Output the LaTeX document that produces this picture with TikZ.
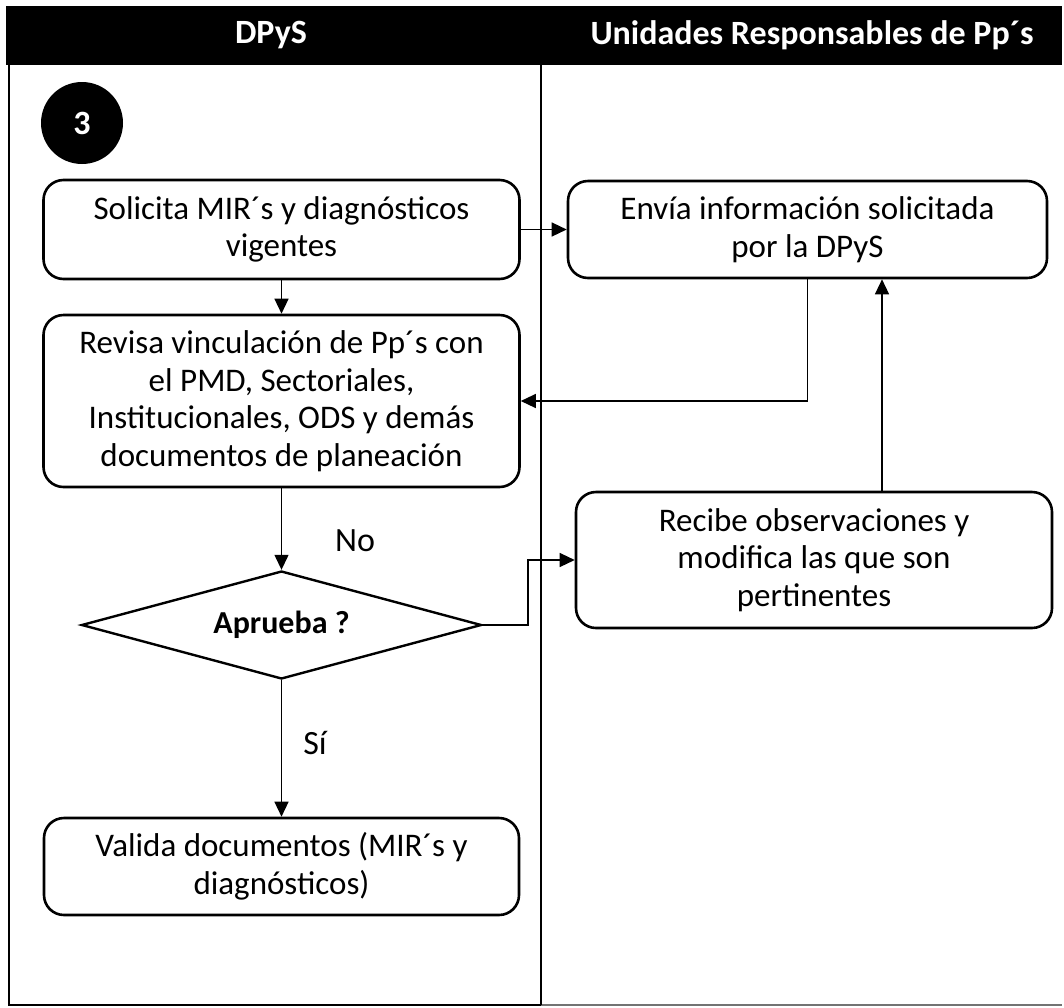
\documentclass[tikz,border=0pt]{standalone}
\usepackage{fontspec}
\setmainfont{Carlito}
\usetikzlibrary{shapes.geometric,arrows.meta,calc}
\begin{document}
\begin{tikzpicture}[x=1pt,y=-1pt,
  proc/.style={draw,line width=2.6pt,rounded corners=20pt,align=center,inner sep=0pt,
    font=\fontsize{33}{37.5}\selectfont},
  dec/.style={draw,line width=2.4pt,shape=diamond,aspect=3.7,inner sep=0pt,
    minimum width=400pt,minimum height=108pt,font=\bfseries\fontsize{32}{36}\selectfont},
  arr/.style={line width=1.3pt,-{Triangle[length=15pt,width=14pt]}},
  conn/.style={line width=1.3pt},
  frameline/.style={line width=2.8pt},
  lbl/.style={font=\fontsize{34}{38}\selectfont,inner sep=0pt},
  hdr/.style={font=\bfseries\fontsize{34}{38}\selectfont,text=white,inner sep=0pt}]
\useasboundingbox (0,0) rectangle (1064,1007);
% header and frame
\fill[black] (6,6) rectangle (1062,65);
\node[hdr] (h1) at (271,35) {DPyS};
\node[hdr] (h2) at (812,35) {Unidades Responsables de Pp´s};
\draw[frameline] (9,65) -- (9,1005) -- (541,1005);
\draw[line width=1.2pt,black!55] (541,1005) -- (1062,1005);
\draw[frameline] (541,65) -- (541,1005);
% step marker
\node[circle,fill=black,minimum size=82pt,inner sep=0pt,text=white,
  font=\bfseries\fontsize{34}{38}\selectfont] (num) at (82,123) {3};
% nodes
\node[proc,minimum width=476pt,minimum height=99pt] (b1) at (281.5,229.5)
  {Solicita MIR´s y diagnósticos\\vigentes};
\node[proc,minimum width=476pt,minimum height=172pt] (b2) at (281.5,401)
  {Revisa vinculación de Pp´s con\\el PMD, Sectoriales,\\Institucionales, ODS y demás\\documentos de planeación};
\node[proc,minimum width=479pt,minimum height=97pt] (b3) at (807.5,229.5)
  {Envía información solicitada\\por la DPyS};
\node[proc,minimum width=476pt,minimum height=136pt] (rec) at (814,560)
  {Recibe observaciones y\\modifica las que son\\pertinentes};
\node[dec] (dia) at (281.5,625) {Aprueba ?};
\node[proc,minimum width=475pt,minimum height=97pt] (val) at (281.5,866.5)
  {Valida documentos (MIR´s y\\diagnósticos)};
\node[lbl] (no) at (355,541) {No};
\node[lbl] (si) at (315,743) {Sí};
% connectors
\coordinate (upx) at (882,0);
\coordinate (elb) at (528,0);
\draw[arr] (b1.south) -- (b2.north);
\draw[arr] (b1.east) -- (b3.west);
\draw[arr] (b3.south) |- (b2.east);
\draw[arr] (rec.north -| upx) -- (b3.south -| upx);
\draw[arr] (b2.south) -- (dia.north);
\draw[arr] (dia.east) -| (elb |- rec.west) -- (rec.west);
\draw[arr] (dia.south) -- (val.north);
\end{tikzpicture}
\end{document}
